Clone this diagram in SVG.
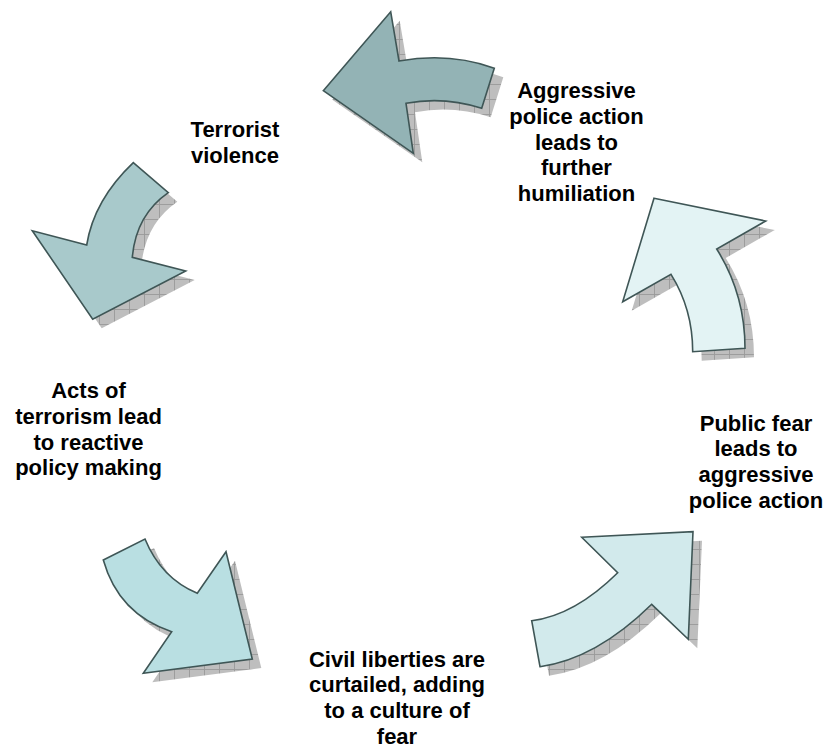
<svg xmlns="http://www.w3.org/2000/svg" width="826" height="748" viewBox="0 0 826 748">
<style>
.lbl{font-family:"Liberation Sans",Arial,sans-serif;font-size:22px;font-weight:bold;fill:#000;text-anchor:middle}
.arr{stroke:#3F5656;stroke-width:1.6;stroke-linejoin:miter}
.shd{fill:url(#grid);stroke:none}
</style>
<defs>
<pattern id="grid" patternUnits="userSpaceOnUse" width="15" height="15">
<rect width="15" height="15" fill="#BEBEBE"/>
<path d="M0 0.5H15M0.5 0V15" stroke="#9A9A9A" stroke-width="0.9" fill="none"/>
</pattern>
<path id="a1" d="M323.3,90.7 L390.7,11.7 L399,61 Q450,52 494.3,68.3 L481.7,108.3 Q444,96 406,103.3 L413.3,153.3 Z"/>
<path id="a2" d="M133.3,162.7 L168.3,192.7 Q136,215 132.3,257.3 L185.7,271 L92.7,319.3 L32.3,230.7 L86.7,245 Q94,200 133.3,162.7 Z"/>
<path id="a3" d="M103.3,560 L145,539 Q161,578 197.3,593.3 L226,551.7 L252.3,659 L143.3,673.3 L171.7,631.7 Q118.5,614 103.3,560 Z"/>
<path id="a4" d="M581.7,537.3 L693,531.7 L688.3,639.3 L651.7,604.3 Q596,659 540,666.7 L531.7,620.7 Q574.7,615.3 617.7,572.7 Z"/>
<path id="a5" d="M654,198.3 L765.7,221 L716.7,249 Q745,294 745,348.3 L692.7,351.7 Q692.7,309 671,274.3 L622.7,301.7 Z"/>
</defs>
<g id="connectors">
<g id="arrow-top">
<use href="#a1" class="shd" transform="translate(9,9)"/>
<use href="#a1" class="arr" fill="#93B3B5"/>
</g>
<g id="arrow-left">
<use href="#a2" class="shd" transform="translate(9,9)"/>
<use href="#a2" class="arr" fill="#A8C9CB"/>
</g>
<g id="arrow-bottom-left">
<use href="#a3" class="shd" transform="translate(9,9)"/>
<use href="#a3" class="arr" fill="#B9DFE2"/>
</g>
<g id="arrow-bottom-right">
<use href="#a4" class="shd" transform="translate(9,9)"/>
<use href="#a4" class="arr" fill="#D2EAEC"/>
</g>
<g id="arrow-right">
<use href="#a5" class="shd" transform="translate(9,9)"/>
<use href="#a5" class="arr" fill="#E3F3F4"/>
</g>
</g>
<g id="node-terrorist-violence">
<text class="lbl" x="235" y="137"><tspan x="235">Terrorist</tspan><tspan x="235" dy="25.7">violence</tspan></text>
</g>
<g id="node-aggressive-police">
<text class="lbl" x="576.5" y="98.3"><tspan x="576.5">Aggressive</tspan><tspan x="576.5" dy="25.7">police action</tspan><tspan x="576.5" dy="25.7">leads to</tspan><tspan x="576.5" dy="25.7">further</tspan><tspan x="576.5" dy="25.7">humiliation</tspan></text>
</g>
<g id="node-acts-of-terrorism">
<text class="lbl" x="88.5" y="398.3"><tspan x="88.5">Acts of</tspan><tspan x="88.5" dy="25.7">terrorism lead</tspan><tspan x="88.5" dy="25.7">to reactive</tspan><tspan x="88.5" dy="25.7">policy making</tspan></text>
</g>
<g id="node-civil-liberties">
<text class="lbl" x="397" y="666.7"><tspan x="397">Civil liberties are</tspan><tspan x="397" dy="25.7">curtailed, adding</tspan><tspan x="397" dy="25.7">to a culture of</tspan><tspan x="397" dy="25.7">fear</tspan></text>
</g>
<g id="node-public-fear">
<text class="lbl" x="756" y="430.7"><tspan x="756">Public fear</tspan><tspan x="756" dy="25.7">leads to</tspan><tspan x="756" dy="25.7">aggressive</tspan><tspan x="756" dy="25.7">police action</tspan></text>
</g>
</svg>
